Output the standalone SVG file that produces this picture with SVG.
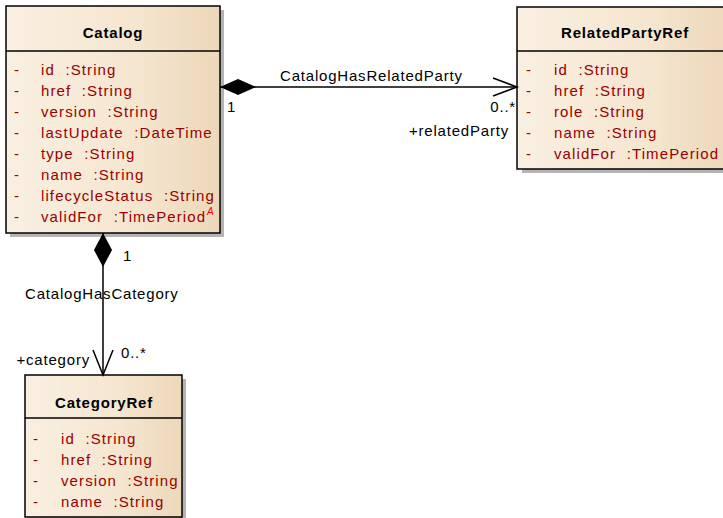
<svg xmlns="http://www.w3.org/2000/svg" width="723" height="518" viewBox="0 0 723 518">
<defs>
<linearGradient id="g" x1="0" y1="0" x2="1" y2="0">
<stop offset="0" stop-color="#f9efe1"/>
<stop offset="0.6" stop-color="#f5e6d0"/>
<stop offset="1" stop-color="#ecd8b9"/>
</linearGradient>
</defs>
<style>
text{white-space:pre;font-family:"Liberation Sans",Arial,sans-serif;font-size:15px;letter-spacing:0.8px}
.box{fill:url(#g);stroke:#000;stroke-width:1.5}
.sh{fill:#b4b4b4}
.sep{stroke:#000;stroke-width:1.5}
.t{font-weight:bold;text-anchor:middle;fill:#000}
.a{fill:#990000;letter-spacing:1.1px}
.l{fill:#000}
.ln{stroke:#000;stroke-width:1.5;fill:none}
</style>
<g id="Catalog">
<rect class="sh" x="10" y="10" width="214" height="227"/>
<rect class="box" x="6" y="6" width="214" height="227"/>
<line class="sep" x1="6" y1="51" x2="220" y2="51"/>
<text class="t" x="113" y="38">Catalog</text>
<text class="a" x="14" y="75">-</text><text class="a" x="41" y="75">id  :String</text>
<text class="a" x="14" y="96">-</text><text class="a" x="41" y="96">href  :String</text>
<text class="a" x="14" y="117">-</text><text class="a" x="41" y="117">version  :String</text>
<text class="a" x="14" y="138">-</text><text class="a" x="41" y="138">lastUpdate  :DateTime</text>
<text class="a" x="14" y="159">-</text><text class="a" x="41" y="159">type  :String</text>
<text class="a" x="14" y="180">-</text><text class="a" x="41" y="180">name  :String</text>
<text class="a" x="14" y="201">-</text><text class="a" x="41" y="201">lifecycleStatus  :String</text>
<text class="a" x="14" y="222">-</text><text class="a" x="41" y="222">validFor  :TimePeriod</text>
<text x="207" y="215" style="font-size:10px;letter-spacing:0;font-style:italic;fill:#ff0000">A</text>
</g>
<g id="RelatedPartyRef">
<rect class="sh" x="522" y="11" width="216" height="162"/>
<rect class="box" x="517" y="7" width="216" height="162"/>
<line class="sep" x1="517" y1="51" x2="733" y2="51"/>
<text class="t" x="625" y="38">RelatedPartyRef</text>
<text class="a" x="526" y="75">-</text><text class="a" x="554" y="75">id  :String</text>
<text class="a" x="526" y="96">-</text><text class="a" x="554" y="96">href  :String</text>
<text class="a" x="526" y="117">-</text><text class="a" x="554" y="117">role  :String</text>
<text class="a" x="526" y="138">-</text><text class="a" x="554" y="138">name  :String</text>
<text class="a" x="526" y="159">-</text><text class="a" x="554" y="159">validFor  :TimePeriod</text>
</g>
<g id="CategoryRef">
<rect class="sh" x="29" y="379" width="157" height="142"/>
<rect class="box" x="25" y="375" width="157" height="142"/>
<line class="sep" x1="25" y1="418" x2="182" y2="418"/>
<text class="t" x="104" y="408">CategoryRef</text>
<text class="a" x="33" y="444">-</text><text class="a" x="61" y="444">id  :String</text>
<text class="a" x="33" y="465">-</text><text class="a" x="61" y="465">href  :String</text>
<text class="a" x="33" y="486">-</text><text class="a" x="61" y="486">version  :String</text>
<text class="a" x="33" y="507">-</text><text class="a" x="61" y="507">name  :String</text>
</g>
<g id="connectors">
<line class="ln" x1="220" y1="87" x2="517" y2="87"/>
<polygon points="220,87 238,79 256,87 238,95" fill="#000"/>
<polyline class="ln" points="493,78 517,87 493,96"/>
<text class="l" x="280" y="81">CatalogHasRelatedParty</text>
<text class="l" x="227" y="112">1</text>
<text class="l" x="516" y="112" text-anchor="end">0..*</text>
<text class="l" x="509" y="136" text-anchor="end">+relatedParty</text>
<line class="ln" x1="103" y1="233" x2="103" y2="375"/>
<polygon points="103,233 112,250 103,267 94,250" fill="#000"/>
<polyline class="ln" points="93,350 103,375 113,350"/>
<text class="l" x="123" y="261">1</text>
<text class="l" x="25" y="299">CatalogHasCategory</text>
<text class="l" x="90" y="365" text-anchor="end">+category</text>
<text class="l" x="121" y="358">0..*</text>
</g>
</svg>
